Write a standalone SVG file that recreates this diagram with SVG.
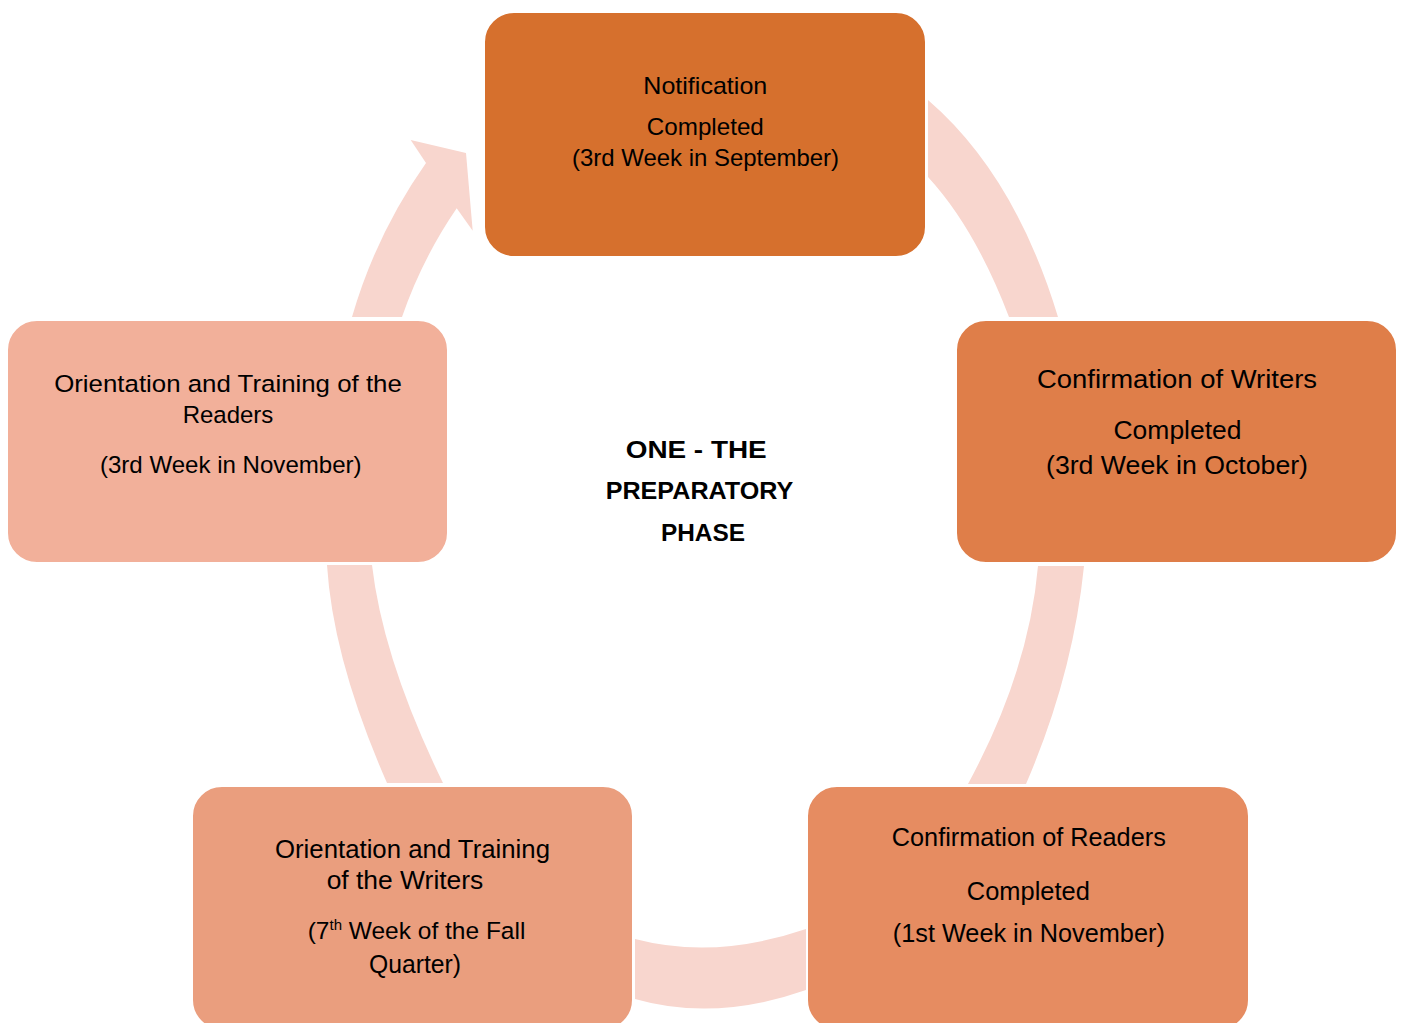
<svg xmlns="http://www.w3.org/2000/svg" width="1404" height="1023" viewBox="0 0 1404 1023">
<style>
.node{stroke:#ffffff;stroke-width:2}
.ring{fill:#F8D6CE}
.t{font-family:"Liberation Sans",Arial,sans-serif;fill:#000;text-anchor:middle}
.c{font-family:"Liberation Sans",Arial,sans-serif;fill:#000;text-anchor:middle;font-weight:bold;font-size:24px}
</style>
<rect width="1404" height="1023" fill="#ffffff"/>
<g id="connectors">
<path class="ring" d="M928,100 Q1015,175 1058,317 L1009,317 Q975,228 928,177 Z"/>
<path class="ring" d="M1084,566 Q1073,675 1026,784 L968,784 Q1029,671 1038,566 Z"/>
<path class="ring" d="M806,990 Q715,1022 635,999 L635,939 Q715,960 806,929 Z"/>
<path class="ring" d="M327,565 Q333,660 387,783 L443,783 Q383,660 372,565 Z"/>
<path class="ring" d="M352,317 Q376,234 426,163 L410.7,140 L466,153 L472.7,230.7 L456.7,208.3 Q422,259 402,317 Z"/>
</g>
<g id="node-notification">
<rect class="node" x="484" y="12" width="442" height="245" rx="30" fill="#D6702D"/>
<text class="t" font-size="24" x="705.3" y="94" textLength="124" lengthAdjust="spacingAndGlyphs">Notification</text>
<text class="t" font-size="24" x="705.3" y="135" textLength="117" lengthAdjust="spacingAndGlyphs">Completed</text>
<text class="t" font-size="24" x="705.5" y="166" textLength="267" lengthAdjust="spacingAndGlyphs">(3rd Week in September)</text>
</g>
<g id="node-confirm-writers">
<rect class="node" x="956" y="320" width="441" height="243" rx="30" fill="#DF7E49"/>
<text class="t" font-size="26.5" x="1177" y="388" textLength="280" lengthAdjust="spacingAndGlyphs">Confirmation of Writers</text>
<text class="t" font-size="26.5" x="1177.5" y="438.5" textLength="128" lengthAdjust="spacingAndGlyphs">Completed</text>
<text class="t" font-size="26.5" x="1177" y="474" textLength="262" lengthAdjust="spacingAndGlyphs">(3rd Week in October)</text>
</g>
<g id="node-confirm-readers">
<rect class="node" x="807" y="786" width="442" height="244" rx="30" fill="#E68C61"/>
<text class="t" font-size="25.5" x="1028.8" y="846" textLength="274" lengthAdjust="spacingAndGlyphs">Confirmation of Readers</text>
<text class="t" font-size="25.5" x="1028.3" y="900" textLength="123" lengthAdjust="spacingAndGlyphs">Completed</text>
<text class="t" font-size="25.5" x="1028.8" y="941.7" textLength="272" lengthAdjust="spacingAndGlyphs">(1st Week in November)</text>
</g>
<g id="node-orientation-writers">
<rect class="node" x="192" y="786" width="441" height="244" rx="30" fill="#EA9E7E"/>
<text class="t" font-size="25" x="412.5" y="858.3" textLength="275" lengthAdjust="spacingAndGlyphs">Orientation and Training</text>
<text class="t" font-size="25" x="405" y="889" textLength="156.7" lengthAdjust="spacingAndGlyphs">of the Writers</text>
<text class="t" font-size="24.5" x="307.7" y="939" style="text-anchor:start">(7<tspan font-size="15" dy="-9">th</tspan><tspan dy="9"> Week of the Fall</tspan></text>
<text class="t" font-size="25" x="415" y="973.3" textLength="92" lengthAdjust="spacingAndGlyphs">Quarter)</text>
</g>
<g id="node-orientation-readers">
<rect class="node" x="7" y="320" width="441" height="243" rx="30" fill="#F2B09A"/>
<text class="t" font-size="24.5" x="228" y="391.7" textLength="347.7" lengthAdjust="spacingAndGlyphs">Orientation and Training of the</text>
<text class="t" font-size="24.5" x="228" y="423.3" textLength="90.7" lengthAdjust="spacingAndGlyphs">Readers</text>
<text class="t" font-size="24.5" x="230.8" y="472.7" textLength="261.7" lengthAdjust="spacingAndGlyphs">(3rd Week in November)</text>
</g>
<g id="center-title">
<text class="c" x="696.2" y="458.3" textLength="141" lengthAdjust="spacingAndGlyphs">ONE - THE</text>
<text class="c" x="699.5" y="499" textLength="187.6" lengthAdjust="spacingAndGlyphs">PREPARATORY</text>
<text class="c" x="703" y="540.7" textLength="84" lengthAdjust="spacingAndGlyphs">PHASE</text>
</g>
</svg>
